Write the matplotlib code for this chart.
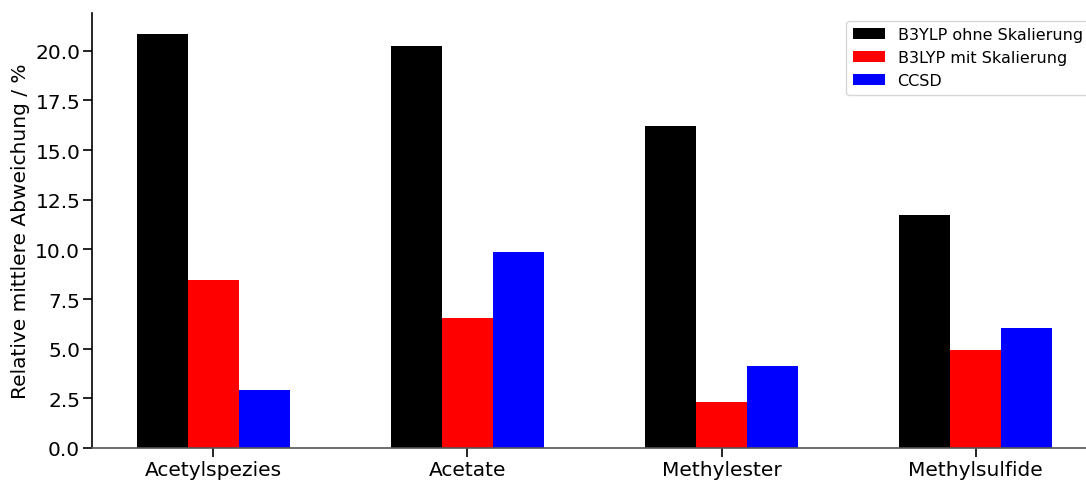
import numpy as np
import matplotlib.pyplot as plt

# Mean relative deviation per compound class
categories = ['Acetylspezies', 'Acetate', 'Methylester', 'Methylsulfide']
b3lyp_unscaled = [20.85, 20.25, 16.23, 11.71]
b3lyp_scaled = [8.44, 6.53, 2.31, 4.92]
ccsd = [2.91, 9.85, 4.12, 6.03]
labels = ['B3YLP ohne Skalierung', 'B3LYP mit Skalierung', 'CCSD']

fig = plt.figure(figsize=(10.86, 4.81), dpi=100)
ax = fig.add_axes([92 / 1086, 32 / 481, 1005 / 1086, 435 / 481])

x = np.arange(len(categories))
w = 0.2
ax.bar(x - w, b3lyp_unscaled, w, color='black', label=labels[0])
ax.bar(x, b3lyp_scaled, w, color='red', label=labels[1])
ax.bar(x + w, ccsd, w, color='blue', label=labels[2])

ax.set_xticks(x)
ax.set_xticklabels(categories, fontsize=14.5)
ax.set_yticks(np.arange(0, 20.1, 2.5))
ax.set_yticklabels([f'{v:.1f}' for v in np.arange(0, 20.1, 2.5)], fontsize=14.5)
ax.set_ylabel('Relative mittlere Abweichung / %', fontsize=14.5, labelpad=4)
ax.set_xlim(-0.478, 3.478)
ax.set_ylim(0, 21.9)

ax.spines['top'].set_visible(False)
ax.spines['right'].set_visible(False)
ax.spines['left'].set_linewidth(1.2)
ax.spines['bottom'].set_color('#555555')
ax.spines['bottom'].set_linewidth(1.2)
ax.tick_params(axis='both', length=6.5, width=1.2, pad=2)

ax.legend(loc='upper right', fontsize=11.5, frameon=True)

plt.savefig('out.png', dpi=100)
